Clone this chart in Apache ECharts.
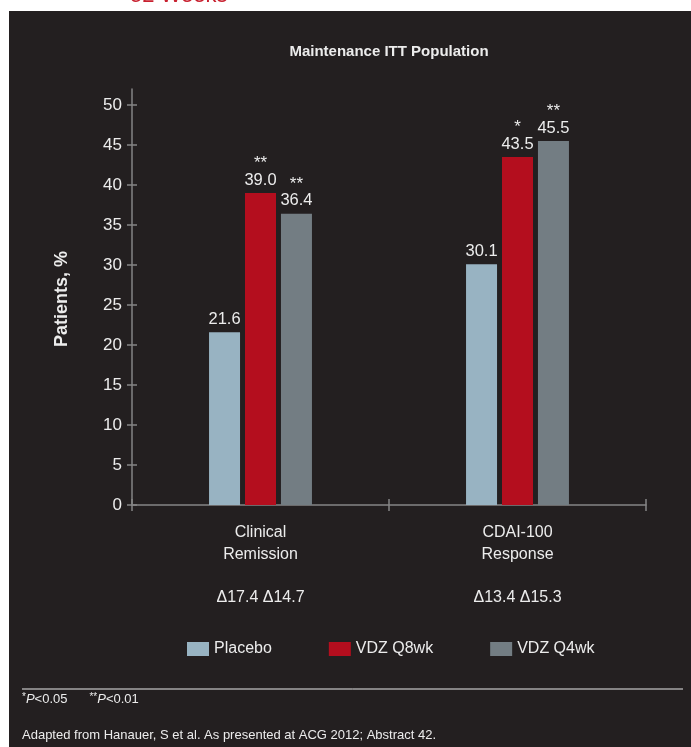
<!DOCTYPE html>
<html>
<head>
<meta charset="utf-8">
<script src="https://cdn.jsdelivr.net/npm/echarts@6/dist/echarts.min.js"></script>
<style>
  html, body { margin: 0; padding: 0; background: #ffffff; }
  #chart { width: 691px; height: 747px; }
</style>
</head>
<body>
<div id="chart"></div>
<script>
// Endpoints and treatment arms
const categories = ['Clinical\nRemission', 'CDAI-100\nResponse'];
const deltas = ['\u039417.4 \u039414.7', '\u039413.4 \u039415.3'];
const seriesNames = ['Placebo', 'VDZ Q8wk', 'VDZ Q4wk'];

// Patients, % at week 52
const placebo = [21.6, 30.1];
const q8wk = [39.0, 43.5];
const q4wk = [36.4, 45.5];

// Significance markers vs placebo
const placeboSig = ['', ''];
const q8wkSig = ['**', '*'];
const q4wkSig = ['**', '**'];

const yTicks = [0, 5, 10, 15, 20, 25, 30, 35, 40, 45, 50];

const FONT = '"Liberation Sans", Arial, Helvetica, sans-serif';
const TEXT = '#ececec';
const AXIS = '#858585';
const colors = ['#98b3c2', '#b40e1e', '#737d83'];

function barLabel(sigs) {
  return {
    show: true,
    position: 'top',
    distance: 4,
    formatter: p => (sigs[p.dataIndex] ? '{s|' + sigs[p.dataIndex] + '}\n' : '') + '{v|' + p.value.toFixed(1) + '}',
    rich: {
      s: { color: TEXT, fontSize: 17, lineHeight: 15, fontFamily: FONT },
      v: { color: TEXT, fontSize: 16.5, lineHeight: 18, fontFamily: FONT }
    }
  };
}

const chart = echarts.init(document.getElementById('chart'), null, { renderer: 'canvas' });

chart.setOption({
  backgroundColor: '#ffffff',
  animation: false,
  textStyle: { fontFamily: FONT },
  graphic: [
    { type: 'rect', z: -10, silent: true, shape: { x: 9, y: 11, width: 682, height: 736 }, style: { fill: '#231f20' } },
    { type: 'text', x: 130, y: -4, style: { text: '52 Weeks', fill: '#c8202f', font: '22px ' + FONT, verticalAlign: 'middle' } },
    { type: 'text', x: 389, y: 52, style: { text: 'Maintenance ITT Population', fill: TEXT, font: 'bold 15px ' + FONT, align: 'center', verticalAlign: 'middle' } },
    { type: 'text', x: 62, y: 299, rotation: Math.PI / 2, style: { text: 'Patients, %', fill: TEXT, font: 'bold 18px ' + FONT, align: 'center', verticalAlign: 'middle' } },
    { type: 'line', shape: { x1: 22, y1: 689, x2: 683, y2: 689 }, style: { stroke: '#e8e8e8', lineWidth: 1 } },
    { type: 'text', x: 22, y: 699, style: {
        text: '{a|*}{i|P}{t|<0.05}{g| }{a|**}{i|P}{t|<0.01}',
        verticalAlign: 'middle',
        rich: {
          a: { fill: TEXT, fontSize: 10, fontFamily: FONT, verticalAlign: 'top', padding: [0, 0, 4, 0] },
          i: { fill: TEXT, fontSize: 13, fontStyle: 'italic', fontFamily: FONT },
          t: { fill: TEXT, fontSize: 13, fontFamily: FONT },
          g: { fill: TEXT, fontSize: 13, width: 22 }
        }
      } },
    { type: 'text', x: 22, y: 735, style: { text: 'Adapted from Hanauer, S et al. As presented at ACG 2012; Abstract 42.', fill: TEXT, font: '13px ' + FONT, verticalAlign: 'middle' } }
  ],
  legend: {
    data: seriesNames,
    left: 187,
    top: 641,
    padding: 0,
    itemWidth: 22,
    itemHeight: 14,
    itemGap: 57,
    icon: 'rect',
    textStyle: { color: TEXT, fontSize: 16, fontFamily: FONT }
  },
  grid: { left: 132, right: 45, top: 89, bottom: 242 },
  xAxis: [
    {
      type: 'category',
      data: categories,
      axisLine: { lineStyle: { color: AXIS, width: 1.5 } },
      axisTick: { show: true, length: 6, lineStyle: { color: AXIS, width: 1.5 } },
      axisLabel: {
        color: TEXT, fontSize: 16, lineHeight: 21.5, margin: 17, fontFamily: FONT,
        formatter: (val, idx) => val + '\n\n' + deltas[idx]
      }
    },
    {
      type: 'category',
      data: categories,
      position: 'bottom',
      axisLine: { show: false },
      axisTick: { show: true, inside: true, length: 6, lineStyle: { color: AXIS, width: 1.5 } },
      axisLabel: { show: false }
    }
  ],
  yAxis: [
    {
      type: 'value',
      min: 0,
      max: 52,
      interval: 5,
      splitLine: { show: false },
      axisLine: { show: true, lineStyle: { color: AXIS, width: 1.5 } },
      axisTick: { show: true, length: 5, customValues: yTicks, lineStyle: { color: AXIS, width: 1.5 } },
      axisLabel: { color: TEXT, fontSize: 17, margin: 10, fontFamily: FONT, customValues: yTicks }
    },
    {
      type: 'value',
      min: 0,
      max: 52,
      interval: 5,
      position: 'left',
      splitLine: { show: false },
      axisLine: { show: false },
      axisTick: { show: true, inside: true, length: 5, customValues: yTicks, lineStyle: { color: AXIS, width: 1.5 } },
      axisLabel: { show: false }
    }
  ],
  series: [
    { name: seriesNames[0], type: 'bar', data: placebo, barWidth: 31, barGap: '16%', itemStyle: { color: colors[0] }, label: barLabel(placeboSig) },
    { name: seriesNames[1], type: 'bar', data: q8wk, barWidth: 31, barGap: '16%', itemStyle: { color: colors[1] }, label: barLabel(q8wkSig) },
    { name: seriesNames[2], type: 'bar', data: q4wk, barWidth: 31, barGap: '16%', itemStyle: { color: colors[2] }, label: barLabel(q4wkSig) }
  ]
});
</script>
</body>
</html>
